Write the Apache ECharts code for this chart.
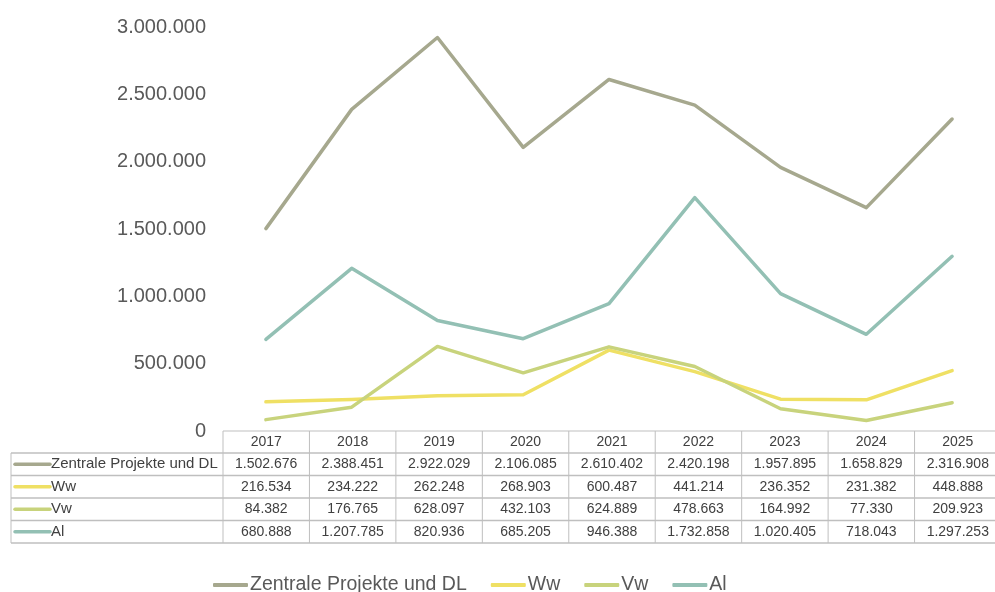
<!DOCTYPE html>
<html>
<head>
<meta charset="utf-8">
<script src="https://cdn.jsdelivr.net/npm/echarts@6/dist/echarts.min.js"></script>
<style>
html,body{margin:0;padding:0;background:#fff;}
#c{width:995px;height:592px;}
</style>
</head>
<body>
<div id="c"></div>
<script>
var years = ['2017','2018','2019','2020','2021','2022','2023','2024','2025'];
var seriesNames = ['Zentrale Projekte und DL','Ww','Vw','Al'];
var zentrale = [1502676, 2388451, 2922029, 2106085, 2610402, 2420198, 1957895, 1658829, 2316908];
var ww = [216534, 234222, 262248, 268903, 600487, 441214, 236352, 231382, 448888];
var vw = [84382, 176765, 628097, 432103, 624889, 478663, 164992, 77330, 209923];
var al = [680888, 1207785, 820936, 685205, 946388, 1732858, 1020405, 718043, 1297253];
var yTicks = [0, 500000, 1000000, 1500000, 2000000, 2500000, 3000000];

var colors = ['#a6a88e', '#efe064', '#c8d37c', '#93c0b4'];
var allData = [zentrale, ww, vw, al];

function fmt(n){ return String(n).replace(/\B(?=(\d{3})+(?!\d))/g, '.'); }

var FONT = '"Liberation Sans", Arial, sans-serif';
var gridLeft = 223, gridTop = 27, gridWidth = 778, gridBottomY = 431;
var colW = gridWidth / years.length;
var rowY = [431, 453, 475.5, 498, 520.5, 543];
var tableLeft = 11;
var lineColor = '#bfbfbf';

var chart = echarts.init(document.getElementById('c'), null, {renderer:'canvas'});

var graphics = [];
graphics.push({type:'line', shape:{x1:gridLeft, y1:rowY[0], x2:gridLeft+gridWidth, y2:rowY[0]}, style:{stroke:lineColor, lineWidth:1}});
for (var r = 1; r < rowY.length; r++) {
  graphics.push({type:'line', shape:{x1:tableLeft, y1:rowY[r], x2:gridLeft+gridWidth, y2:rowY[r]}, style:{stroke:lineColor, lineWidth:1.3}});
}
graphics.push({type:'line', shape:{x1:tableLeft, y1:rowY[1], x2:tableLeft, y2:rowY[5]}, style:{stroke:lineColor, lineWidth:1}});
for (var k = 0; k <= years.length; k++) {
  var x = gridLeft + k*colW;
  graphics.push({type:'line', shape:{x1:x, y1:rowY[0], x2:x, y2:rowY[5]}, style:{stroke:lineColor, lineWidth:1}});
}
for (var i = 0; i < years.length; i++) {
  graphics.push({type:'text', x: gridLeft + (i+0.5)*colW, y:(rowY[0]+rowY[1])/2,
    style:{text:years[i], fill:'#404040', font:'14px '+FONT, textAlign:'center', textVerticalAlign:'middle'}});
}
for (var s = 0; s < seriesNames.length; s++) {
  var cy = (rowY[s+1]+rowY[s+2])/2;
  graphics.push({type:'line', shape:{x1:15, y1:cy, x2:50, y2:cy}, style:{stroke:colors[s], lineWidth:3.5, lineCap:'round'}});
  graphics.push({type:'text', x:51, y:cy, style:{text:seriesNames[s], fill:'#404040', font:'15px '+FONT, textAlign:'left', textVerticalAlign:'middle'}});
  for (var j = 0; j < years.length; j++) {
    graphics.push({type:'text', x: gridLeft + (j+0.5)*colW, y:cy,
      style:{text:fmt(allData[s][j]), fill:'#404040', font:'14px '+FONT, textAlign:'center', textVerticalAlign:'middle'}});
  }
}

var series = seriesNames.map(function(name, idx){
  return {
    name: name, type:'line', data: allData[idx], symbol:'none', smooth:false,
    lineStyle:{color:colors[idx], width:3.5, cap:'round', join:'round'},
    itemStyle:{color:colors[idx]},
    z: 2 + idx
  };
});

chart.setOption({
  animation:false,
  backgroundColor:'#fff',
  color: colors,
  grid:{left:gridLeft, top:gridTop, width:gridWidth, height:gridBottomY-gridTop, containLabel:false},
  xAxis:{type:'category', data:years, boundaryGap:true,
    axisLine:{show:false}, axisTick:{show:false}, axisLabel:{show:false}, splitLine:{show:false}},
  yAxis:{type:'value', min:yTicks[0], max:yTicks[yTicks.length-1], interval:yTicks[1]-yTicks[0],
    axisLine:{show:false}, axisTick:{show:false}, splitLine:{show:false},
    axisLabel:{margin:17, color:'#595959', fontSize:20, fontFamily:FONT, formatter:function(v){return fmt(v);}}},
  legend:{left:208, top:570, itemWidth:35, itemHeight:4, itemGap:24, icon:'roundRect',
    data: seriesNames,
    textStyle:{color:'#595959', fontSize:19.5, fontFamily:FONT, padding:[0,0,0,-3]}},
  graphic: graphics,
  series: series
});
</script>
</body>
</html>
